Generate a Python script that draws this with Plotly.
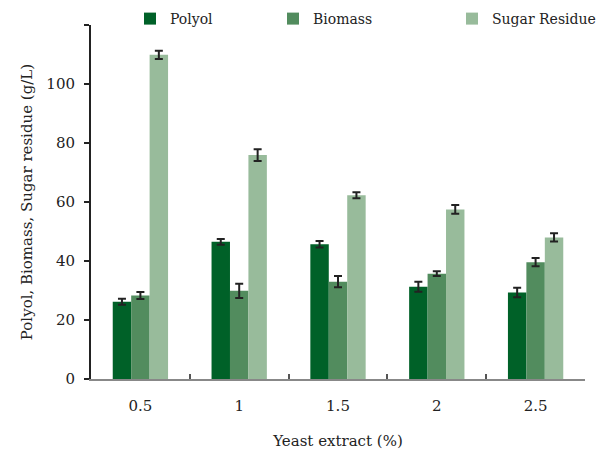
import plotly.graph_objects as go

categories = ["0.5", "1", "1.5", "2", "2.5"]
polyol = [26.2, 46.5, 45.7, 31.3, 29.3]
polyol_err = [1.0, 1.0, 1.1, 1.7, 1.6]
biomass = [28.3, 29.9, 33.0, 35.7, 39.6]
biomass_err = [1.2, 2.4, 1.9, 0.8, 1.4]
sugar = [109.9, 75.9, 62.3, 57.5, 48.0]
sugar_err = [1.4, 2.0, 1.0, 1.5, 1.4]

y_tickvals = [0, 20, 40, 60, 80, 100, 120]
y_ticktext = ["0", "20", "40", "60", "80", "100", ""]

colors = ["#006128", "#528c5e", "#98bb9b"]
FONT = "DejaVu Serif"
TXT = "#222222"

# page body has an 8px default margin; figure is sized to fit the viewport
W, H, OFF = 608, 447, 8

def err(vals):
    return dict(type="data", array=vals, visible=True, color="#222222",
                thickness=2, width=4)

fig = go.Figure()
fig.add_trace(go.Bar(name="Polyol", x=categories, y=polyol, error_y=err(polyol_err),
                     marker=dict(color=colors[0], line=dict(width=0)), legend="legend"))
fig.add_trace(go.Bar(name="Biomass", x=categories, y=biomass, error_y=err(biomass_err),
                     marker=dict(color=colors[1], line=dict(width=0)), legend="legend2"))
fig.add_trace(go.Bar(name="Sugar Residue", x=categories, y=sugar, error_y=err(sugar_err),
                     marker=dict(color=colors[2], line=dict(width=0)), legend="legend3"))

leg_common = dict(orientation="h", xref="container", yref="container",
                  yanchor="middle", y=1 - (19 - OFF) / H, xanchor="left",
                  font=dict(family=FONT, size=14, color=TXT),
                  bgcolor="rgba(0,0,0,0)", itemwidth=30)

fig.update_layout(
    width=W, height=H, showlegend=True,
    margin=dict(l=91 - OFF, r=31, t=25 - OFF, b=76, autoexpand=False),
    paper_bgcolor="white", plot_bgcolor="white",
    barmode="group", bargap=0.44, bargroupgap=0,
    font=dict(family=FONT, size=15, color=TXT),
    legend=dict(leg_common, x=(130 - OFF) / W),
    legend2=dict(leg_common, x=(273 - OFF) / W),
    legend3=dict(leg_common, x=(452 - OFF) / W),
    xaxis=dict(
        type="category", automargin=False,
        showline=True, linecolor="#888888", linewidth=1.5,
        ticks="inside", tickson="boundaries", ticklen=5, tickcolor="#555555", tickwidth=1.5,
        tickfont=dict(family=FONT, size=15, color=TXT), ticklabelstandoff=12,
        title=dict(text="Yeast extract (%)", font=dict(family=FONT, size=15, color=TXT),
                   standoff=22),
        showgrid=False, zeroline=False,
    ),
    yaxis=dict(
        range=[0, 120], automargin=False,
        tickvals=y_tickvals, ticktext=y_ticktext,
        showline=True, linecolor="#222222", linewidth=2,
        ticks="outside", ticklen=5, tickcolor="#222222", tickwidth=2,
        tickfont=dict(family=FONT, size=15, color=TXT), ticklabelstandoff=6,
        title=dict(text="Polyol, Biomass, Sugar residue (g/L)",
                   font=dict(family=FONT, size=15, color=TXT), standoff=10),
        showgrid=False, zeroline=False,
    ),
)

fig.write_html("out.html")
